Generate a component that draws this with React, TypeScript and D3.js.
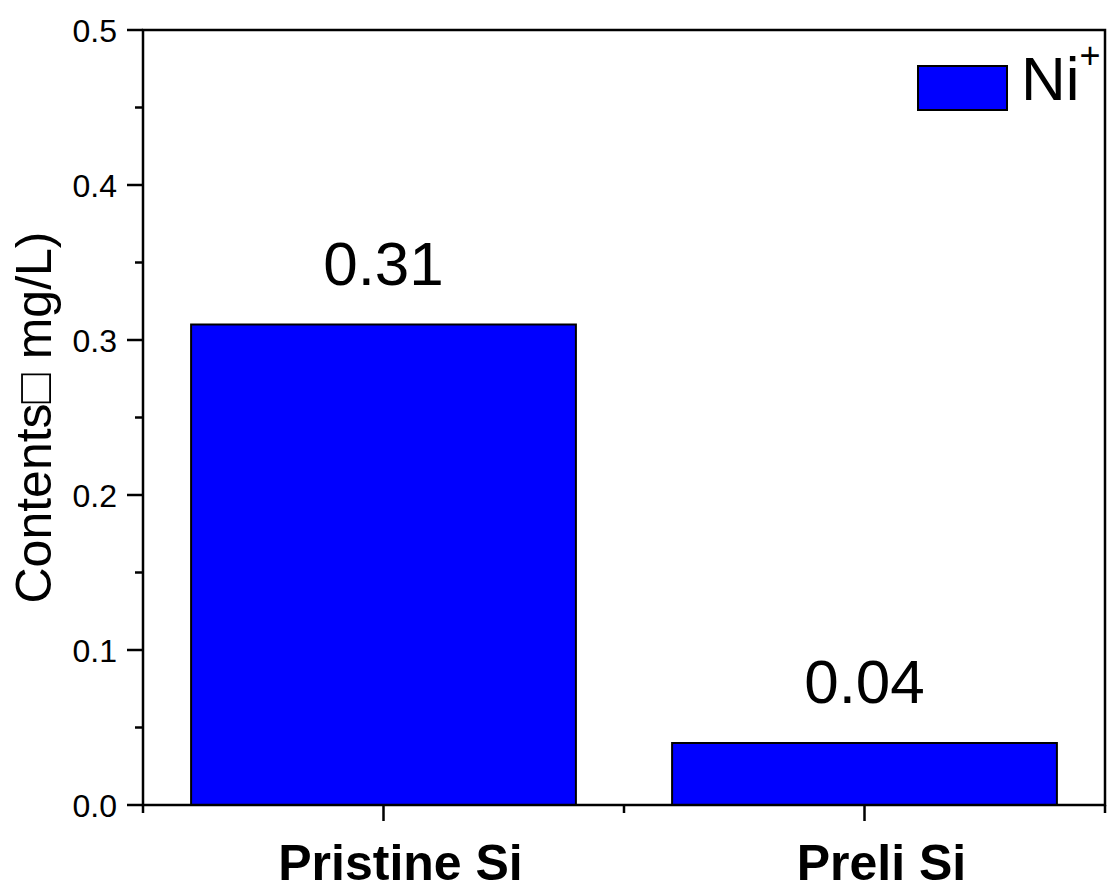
import React from "react";
import * as d3 from "d3";

// Ni+ content per sample
const categories = ["Pristine Si", "Preli Si"];
const niValues = [0.31, 0.04];
const yTickValues = [0, 0.1, 0.2, 0.3, 0.4, 0.5];
const yMinorValues = [0.05, 0.15, 0.25, 0.35, 0.45];
const xMinorValues = [0.5, 1.5, 2.5];
const seriesName = "Ni";
const yTitle = "Contents\u25A1 mg/L)";

const W = 1107;
const H = 886;
const left = 143;
const right = 1105;
const top = 30;
const bottom = 805;
const FONT = "'Liberation Sans', Arial, sans-serif";
const BLUE = "#0000ff";

export default function App() {
  const x = d3.scaleLinear().domain([0.5, 2.5]).range([left, right]);
  const y = d3.scaleLinear().domain([0, 0.5]).range([bottom, top]);
  const barW = x(1.4) - x(0.6);
  const fmtTick = d3.format(".1f");
  const fmtVal = d3.format(".2f");

  return (
    <svg
      width={W}
      height={H}
      style={{ position: "absolute", left: 0, top: 0, background: "#fff" }}
      fontFamily={FONT}
    >
      <rect x={0} y={0} width={W} height={H} fill="#fff" />

      {/* bars */}
      {niValues.map((v, i) => (
        <rect
          key={categories[i]}
          x={x(i + 1) - barW / 2}
          y={y(v)}
          width={barW}
          height={y(0) - y(v)}
          fill={BLUE}
          stroke="#000"
          strokeWidth={2}
        />
      ))}

      {/* value labels */}
      {niValues.map((v, i) => (
        <text
          key={"v" + i}
          x={x(i + 1)}
          y={y(v) - 40}
          textAnchor="middle"
          fontSize={62}
          fill="#000"
        >
          {fmtVal(v)}
        </text>
      ))}

      {/* frame */}
      <rect
        x={left}
        y={top}
        width={right - left}
        height={bottom - top}
        fill="none"
        stroke="#000"
        strokeWidth={2.5}
      />

      {/* y axis ticks */}
      {yTickValues.map((t) => (
        <g key={"yt" + t}>
          <line x1={left - 16} x2={left} y1={y(t)} y2={y(t)} stroke="#000" strokeWidth={2.5} />
          <text
            x={left - 26}
            y={y(t)}
            dy="0.36em"
            textAnchor="end"
            fontSize={32}
            fill="#000"
          >
            {fmtTick(t)}
          </text>
        </g>
      ))}
      {yMinorValues.map((t) => (
        <line key={"ym" + t} x1={left - 8} x2={left} y1={y(t)} y2={y(t)} stroke="#000" strokeWidth={2.5} />
      ))}

      {/* x axis ticks */}
      {categories.map((c, i) => (
        <g key={"xt" + c}>
          <line x1={x(i + 1)} x2={x(i + 1)} y1={bottom} y2={bottom + 16} stroke="#000" strokeWidth={2.5} />
          <text
            x={x(i + 1) + 17}
            y={880}
            textAnchor="middle"
            fontSize={50}
            fontWeight="bold"
            fill="#000"
          >
            {c}
          </text>
        </g>
      ))}
      {xMinorValues.map((t) => (
        <line key={"xm" + t} x1={x(t)} x2={x(t)} y1={bottom} y2={bottom + 8} stroke="#000" strokeWidth={2.5} />
      ))}

      {/* y axis title */}
      <text
        transform={`translate(51, ${(top + bottom) / 2}) rotate(-90)`}
        textAnchor="middle"
        fontSize={50}
        fill="#000"
      >
        {yTitle}
      </text>

      {/* legend */}
      <rect x={918} y={66} width={89} height={44} fill={BLUE} stroke="#000" strokeWidth={2} />
      <text x={1021} y={100} fontSize={62} fill="#000">
        {seriesName}
        <tspan fontSize={36} dy={-32}>+</tspan>
      </text>
    </svg>
  );
}
